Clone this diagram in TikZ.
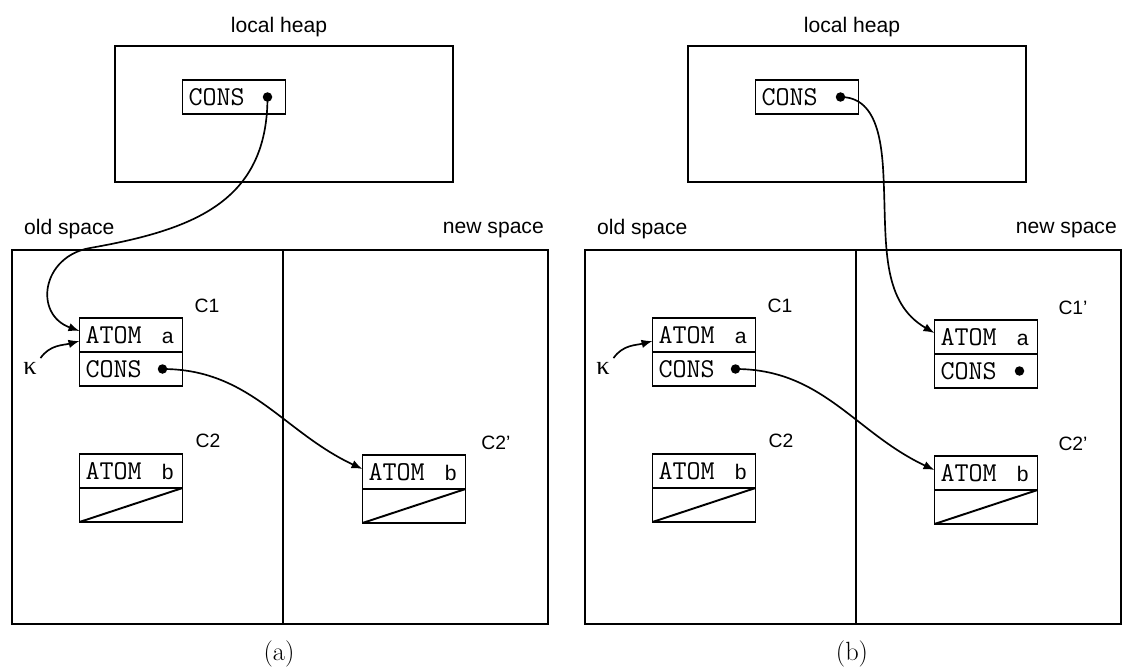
\documentclass[tikz,border=0pt]{standalone}
\usepackage{fontspec}
\setsansfont{Liberation Sans}
\newfontfamily\grkfont{Liberation Serif}
\usepackage{tikz}
\usetikzlibrary{arrows.meta,positioning}

\newcommand{\celltxt}[2]{\makebox[1.82cm]{#1\hfill{\sffamily\fontsize{12}{14}\selectfont #2}\hspace{0.06cm}}}

\begin{document}
\begin{tikzpicture}[
  area/.style={draw, line width=1.1pt, inner sep=0pt},
  cell/.style={draw, line width=1.1pt, outer sep=0pt, minimum width=2.06cm, minimum height=0.68cm, inner xsep=0.12cm, inner ysep=0pt, font=\fontsize{15.5}{17}\selectfont\ttfamily},
  dot/.style={circle, fill, inner sep=0pt, minimum size=0.19cm},
  lbl/.style={font=\fontsize{12}{14}\selectfont\sffamily},
  clbl/.style={font=\fontsize{11}{13}\selectfont\sffamily},
  capt/.style={font=\fontsize{15}{18}\selectfont},
  arr/.style={-{Latex[length=2.2mm,width=1.7mm]}, line width=0.95pt}
]
\useasboundingbox (0,0) rectangle (22.56,13.38);

% (a) before the copy of C1
\node[lbl] (a-heaplbl) at (5.58,12.84) {local heap};
\node[area, minimum width=6.76cm, minimum height=2.72cm] (a-heap) at (5.68,11.10) {};
\node[cell] (a-hcons) at (4.68,11.44) {\celltxt{CONS}{}};
\node[dot] (a-hdot) at ([xshift=-0.36cm]a-hcons.east) {};

\node[lbl, anchor=west] (a-old) at (0.36,8.80) {old space};
\node[lbl, anchor=east] (a-new) at (11.00,8.78) {new space};
\node[area, minimum width=10.72cm, minimum height=7.48cm] (a-mem) at (5.60,4.64) {};
\draw[line width=1.1pt] ([xshift=0.06cm]a-mem.north) -- ([xshift=0.06cm]a-mem.south);

\node[clbl] (a-c1lbl) at (4.14,7.26) {C1};
\node[cell] (a-c1top) at (2.62,6.68) {\celltxt{ATOM}{a}};
\node[cell, below=0pt of a-c1top] (a-c1bot) {\celltxt{CONS}{}};
\node[dot] (a-c1dot) at ([xshift=-0.40cm]a-c1bot.east) {};
\node[inner sep=2pt] (a-kappa) at (0.60,6.02) {\fontsize{15}{18}\selectfont\grkfont κ};

\node[clbl] (a-c2lbl) at (4.16,4.56) {C2};
\node[cell] (a-c2top) at (2.62,3.96) {\celltxt{ATOM}{b}};
\node[cell, below=0pt of a-c2top] (a-c2bot) {};
\draw[line width=1.1pt] (a-c2bot.south west) -- (a-c2bot.north east);

\node[clbl] (a-c2nlbl) at (9.92,4.52) {C2'};
\node[cell] (a-c2ntop) at (8.28,3.94) {\celltxt{ATOM}{b}};
\node[cell, below=0pt of a-c2ntop] (a-c2nbot) {};
\draw[line width=1.1pt] (a-c2nbot.south west) -- (a-c2nbot.north east);

\draw[arr] (a-hdot.center) to[out=-90,in=10,looseness=1.15] (1.80,8.42) to[out=190,in=160,looseness=1.5] ([yshift=0.08cm]a-c1top.west);
\draw[arr] (a-kappa.north east) to[out=55,in=195] ([yshift=-0.12cm]a-c1top.west);
\draw[arr] (a-c1dot.center) to[out=0,in=155] ([yshift=0.06cm]a-c2ntop.west);

\node[capt] (a-cap) at (5.58,0.30) {(a)};

% (b) after the copy of C1
\begin{scope}[xshift=11.46cm]
\node[lbl] (b-heaplbl) at (5.58,12.84) {local heap};
\node[area, minimum width=6.76cm, minimum height=2.72cm] (b-heap) at (5.68,11.10) {};
\node[cell] (b-hcons) at (4.68,11.44) {\celltxt{CONS}{}};
\node[dot] (b-hdot) at ([xshift=-0.36cm]b-hcons.east) {};

\node[lbl, anchor=west] (b-old) at (0.36,8.80) {old space};
\node[lbl, anchor=east] (b-new) at (11.00,8.78) {new space};
\node[area, minimum width=10.72cm, minimum height=7.48cm] (b-mem) at (5.60,4.64) {};
\draw[line width=1.1pt] ([xshift=0.06cm]b-mem.north) -- ([xshift=0.06cm]b-mem.south);

\node[clbl] (b-c1lbl) at (4.14,7.26) {C1};
\node[cell] (b-c1top) at (2.62,6.68) {\celltxt{ATOM}{a}};
\node[cell, below=0pt of b-c1top] (b-c1bot) {\celltxt{CONS}{}};
\node[dot] (b-c1dot) at ([xshift=-0.40cm]b-c1bot.east) {};
\node[inner sep=2pt] (b-kappa) at (0.60,6.02) {\fontsize{15}{18}\selectfont\grkfont κ};

\node[clbl] (b-c1nlbl) at (10.00,7.22) {C1'};
\node[cell] (b-c1ntop) at (8.26,6.64) {\celltxt{ATOM}{a}};
\node[cell, below=0pt of b-c1ntop] (b-c1nbot) {\celltxt{CONS}{}};
\node[dot] (b-c1ndot) at ([xshift=-0.36cm]b-c1nbot.east) {};

\node[clbl] (b-c2lbl) at (4.16,4.56) {C2};
\node[cell] (b-c2top) at (2.62,3.96) {\celltxt{ATOM}{b}};
\node[cell, below=0pt of b-c2top] (b-c2bot) {};
\draw[line width=1.1pt] (b-c2bot.south west) -- (b-c2bot.north east);

\node[clbl] (b-c2nlbl) at (10.00,4.50) {C2'};
\node[cell] (b-c2ntop) at (8.26,3.92) {\celltxt{ATOM}{b}};
\node[cell, below=0pt of b-c2ntop] (b-c2nbot) {};
\draw[line width=1.1pt] (b-c2nbot.south west) -- (b-c2nbot.north east);

\draw[arr] (b-hdot.center) to[out=0,in=92] (6.22,9.60) to[out=-88,in=150] ([yshift=0.08cm]b-c1ntop.west);
\draw[arr] (b-kappa.north east) to[out=55,in=195] ([yshift=-0.12cm]b-c1top.west);
\draw[arr] (b-c1dot.center) to[out=0,in=155] ([yshift=0.06cm]b-c2ntop.west);

\node[capt] (b-cap) at (5.58,0.30) {(b)};
\end{scope}
\end{tikzpicture}
\end{document}
